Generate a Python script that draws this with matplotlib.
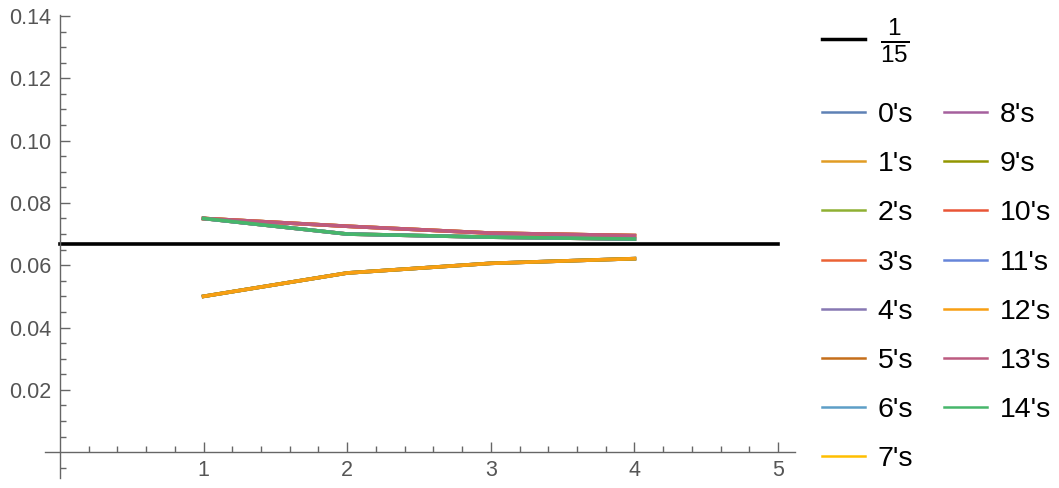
import numpy as np
import matplotlib.pyplot as plt
from matplotlib.lines import Line2D
from matplotlib.ticker import FixedLocator, FormatStrFormatter

plt.rcParams['font.family'] = ['Liberation Sans', 'DejaVu Sans']
plt.rcParams['mathtext.fontset'] = 'custom'
plt.rcParams['mathtext.rm'] = 'Liberation Sans'
plt.rcParams['mathtext.it'] = 'Liberation Sans'

# Data
xs = [1, 2, 3, 4]
low_vals = [0.0500, 0.0575, 0.0606, 0.0621]    # series n with n % 3 == 0
high_vals = [0.0750, 0.0725, 0.0703, 0.0695]   # series n with n % 3 == 1
mid_vals = [0.0750, 0.0700, 0.0690, 0.0684]    # series n with n % 3 == 2
ref_value = 1 / 15

labels = ["%d's" % n for n in range(15)]
colors = ['#5E81B5', '#E19C24', '#8FB032', '#EB6235', '#8778B3',
          '#C56E1A', '#5D9EC7', '#FFBF00', '#A5609D', '#929600',
          '#E95536', '#6685D9', '#F89F13', '#BC5B80', '#47B66B']
groups = [low_vals, high_vals, mid_vals]

fig = plt.figure(figsize=(10.59, 4.88), dpi=100)
ax = fig.add_axes([45 / 1059, 1 - 478 / 488, (795 - 45) / 1059, (478 - 15) / 488])
ax.set_xlim(-0.104, 5.118)
ax.set_ylim(-0.0083, 0.1403)

ax.plot([0, 5], [ref_value, ref_value], color='black', lw=2.6, zorder=2)
for n in range(15):
    ax.plot(xs, groups[n % 3], color=colors[n], lw=2.6, zorder=3)

# Mathematica-like axes through the origin
for s in ['top', 'right']:
    ax.spines[s].set_visible(False)
ax.spines['left'].set_position(('data', 0))
ax.spines['bottom'].set_position(('data', 0))
for s in ['left', 'bottom']:
    ax.spines[s].set_color('#666666')
    ax.spines[s].set_linewidth(1)

ax.xaxis.set_major_locator(FixedLocator([1, 2, 3, 4, 5]))
ax.xaxis.set_minor_locator(FixedLocator([i / 5 for i in range(1, 25) if i % 5 != 0]))
ax.yaxis.set_major_locator(FixedLocator([0.02, 0.04, 0.06, 0.08, 0.10, 0.12, 0.14]))
ax.yaxis.set_minor_locator(FixedLocator([i * 0.005 for i in range(-1, 28) if i % 4 != 0]))
ax.yaxis.set_major_formatter(FormatStrFormatter('%.2f'))
ax.tick_params(which='major', direction='in', length=7, width=1, color='#666666',
               labelcolor='#555555', labelsize=15.5, pad=6)
ax.tick_params(which='minor', direction='in', length=4, width=1, color='#666666')

# Legends
ref_handle = [Line2D([], [], color='black', lw=2.5)]
leg1 = fig.legend(ref_handle, [r'$\frac{1}{15}$'], loc='center left',
                  bbox_to_anchor=(822 / 1059, 1 - 41 / 488), frameon=False,
                  fontsize=25, handlelength=1.24, handletextpad=0.43,
                  borderpad=0, borderaxespad=0)
handles = [Line2D([], [], color=c, lw=1.8) for c in colors]
leg2 = fig.legend(handles, labels, ncol=2, loc='upper left',
                  bbox_to_anchor=(822 / 1059, 1 - 102 / 488), frameon=False,
                  fontsize=20.5, handlelength=1.5, handletextpad=0.45,
                  columnspacing=1.1, labelspacing=0.815,
                  borderpad=0, borderaxespad=0)

plt.savefig('out.png', dpi=100)
